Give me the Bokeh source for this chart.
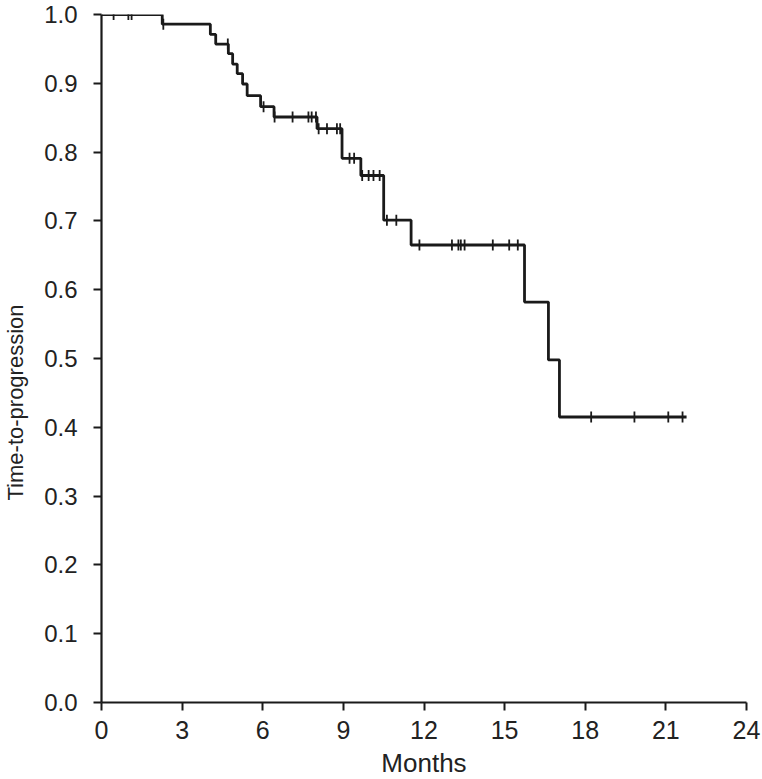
import numpy as np
from bokeh.plotting import figure
from bokeh.models import Range1d, FixedTicker, Title
from bokeh.embed import file_html
from bokeh.resources import INLINE

# Kaplan-Meier step data (time of drop, survival after drop)
event_times = [0.0, 2.26, 4.05, 4.25, 4.72, 4.88, 5.05, 5.25, 5.42, 5.92, 6.42,
               8.02, 8.95, 9.65, 10.50, 11.52, 15.74, 16.63, 17.04]
survival = [1.0, 0.986, 0.971, 0.957, 0.943, 0.928, 0.914, 0.899, 0.882, 0.866, 0.851,
            0.834, 0.791, 0.766, 0.701, 0.665, 0.582, 0.498, 0.415]
last_followup = 21.77

# censored observations (months)
censor_times = [0.45, 1.0, 1.12, 2.3, 4.7, 6.03, 6.44, 7.11, 7.70, 7.82, 7.98,
                8.08, 8.39, 8.76, 8.88, 9.23, 9.40, 9.70, 9.94, 10.12, 10.35,
                10.62, 10.97, 11.83, 13.04, 13.28, 13.37, 13.51, 14.56, 15.17,
                15.49, 18.22, 19.83, 21.09, 21.62]

x_ticks = [0, 3, 6, 9, 12, 15, 18, 21, 24]
y_ticks = [0.0, 0.1, 0.2, 0.3, 0.4, 0.5, 0.6, 0.7, 0.8, 0.9, 1.0]

FONT = "Liberation Sans"
INK = "#1a1a1a"
TXT = "#222222"

p = figure(output_backend="svg", toolbar_location=None,
           frame_width=645, frame_height=688,
           x_range=Range1d(0, 24), y_range=Range1d(0, 1.0),
           min_border_left=101, min_border_right=16, min_border_top=14,
           min_border_bottom=75)
p.outline_line_color = None
p.xgrid.visible = False
p.ygrid.visible = False
p.background_fill_color = "white"
p.border_fill_color = "white"

# step line
sx = list(event_times) + [last_followup]
sy = list(survival) + [survival[-1]]
p.step(sx, sy, mode="after", line_color=INK, line_width=2.8)

# censor marks
et = np.array(event_times)
sv = np.array(survival)
idx = np.searchsorted(et, np.array(censor_times), side="right") - 1
cy = sv[idx]
p.scatter(censor_times, cy, marker="dash", angle=np.pi / 2, size=11,
          line_color=INK, line_width=1.8)

for ax in (p.xaxis[0], p.yaxis[0]):
    ax.axis_line_color = INK
    ax.axis_line_width = 2.2
    ax.major_tick_line_color = INK
    ax.major_tick_line_width = 2.0
    ax.major_tick_out = 8
    ax.major_tick_in = 0
    ax.minor_tick_line_color = None
    ax.major_label_text_font = FONT
    ax.major_label_text_color = TXT

p.xaxis.ticker = FixedTicker(ticks=x_ticks)
p.yaxis.ticker = FixedTicker(ticks=y_ticks)
p.xaxis.major_label_overrides = {t: str(t) for t in x_ticks}
p.yaxis.major_label_overrides = {t: f"{t:.1f}" for t in y_ticks}
p.xaxis.major_label_text_font_size = "25px"
p.yaxis.major_label_text_font_size = "24px"
p.xaxis.major_label_standoff = 10
p.yaxis.major_label_standoff = 16

p.xaxis.axis_label = "Months"
p.xaxis.axis_label_text_font = FONT
p.xaxis.axis_label_text_font_size = "26px"
p.xaxis.axis_label_text_font_style = "normal"
p.xaxis.axis_label_text_color = TXT
p.xaxis.axis_label_standoff = 6

# thin blank spacer between the tick labels and the vertical title
p.yaxis.axis_label = "\u2009"
p.yaxis.axis_label_text_font_size = "8px"
p.yaxis.axis_label_standoff = 2

ylab = Title(text="Time-to-progression", align="left", offset=202,
             text_font=FONT, text_font_size="22px", text_font_style="normal",
             text_color=TXT, standoff=0)
p.add_layout(ylab, "left")

open("out.html", "w").write(file_html(p, INLINE))
